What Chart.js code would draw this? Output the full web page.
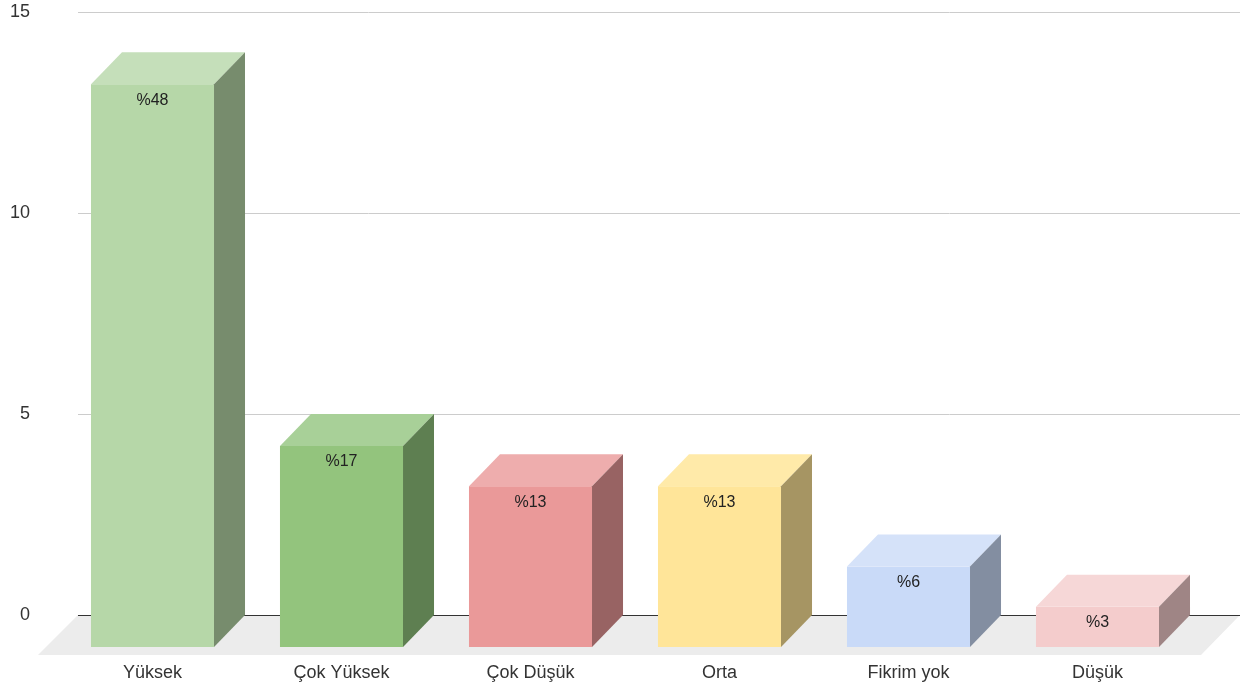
<!DOCTYPE html>
<html>
<head>
<meta charset="utf-8">
<script src="https://cdn.jsdelivr.net/npm/chart.js@4.4.0/dist/chart.umd.min.js"></script>
<style>
body{margin:0;background:#fff}
canvas{display:block}
</style>
</head>
<body>
<canvas id="chart" width="1257" height="688"></canvas>
<script>
const categories = ['Yüksek','Çok Yüksek','Çok Düşük','Orta','Fikrim yok','Düşük']
const counts = [14,5,4,4,2,1]
const percentLabels = ['%48','%17','%13','%13','%6','%3']
const yTicks = [0,5,10,15]

const frontColors = ['#b6d7a8','#93c47d','#ea9999','#ffe599','#c9daf8','#f4cccc']
const topColors = ['#c5dfba','#a8d098','#eeadad','#ffeaa9','#d5e2f9','#f6d7d7']
const sideColors = ['#778c6d','#5e7f51','#986363','#a69563','#838ea1','#9f8585']

const DX = 31, DY = 32
const FONT = '"Liberation Sans", Arial, sans-serif'

const box3d = {
  id:'box3d',
  beforeDatasetsDraw(chart){
    const {ctx, chartArea, scales:{y}} = chart
    const y0 = y.getPixelForValue(0)
    const gl = chartArea.left + 20, gr = chartArea.right + 48
    ctx.save()
    // floor
    ctx.fillStyle = '#ececec'
    ctx.beginPath()
    ctx.moveTo(gl, y0)
    ctx.lineTo(gr, y0)
    ctx.lineTo(gr - 39, y0 + 40)
    ctx.lineTo(gl - 40, y0 + 40)
    ctx.closePath()
    ctx.fill()
    // grid
    ctx.lineWidth = 1
    yTicks.forEach(v=>{
      const py = Math.round(y.getPixelForValue(v)) + 0.5
      ctx.strokeStyle = v === 0 ? '#333333' : '#cccccc'
      ctx.beginPath()
      ctx.moveTo(gl, py)
      ctx.lineTo(gr, py)
      ctx.stroke()
    })
    ctx.restore()
  },
  afterDatasetsDraw(chart){
    const {ctx} = chart
    const meta = chart.getDatasetMeta(0)
    ctx.save()
    meta.data.forEach((bar,i)=>{
      const {x, y, base, width} = bar.getProps(['x','y','base','width'], true)
      const l = x - width/2, r = x + width/2
      const t = y + DY, b = base + DY
      // front
      ctx.fillStyle = frontColors[i]
      ctx.fillRect(l, t, width, b - t)
      // top
      ctx.fillStyle = topColors[i]
      ctx.beginPath()
      ctx.moveTo(l, t)
      ctx.lineTo(r, t)
      ctx.lineTo(r + DX, t - DY)
      ctx.lineTo(l + DX, t - DY)
      ctx.closePath()
      ctx.fill()
      // side
      ctx.fillStyle = sideColors[i]
      ctx.beginPath()
      ctx.moveTo(r, t)
      ctx.lineTo(r + DX, t - DY)
      ctx.lineTo(r + DX, b - DY)
      ctx.lineTo(r, b)
      ctx.closePath()
      ctx.fill()
      // label
      ctx.fillStyle = '#222222'
      ctx.font = '16px ' + FONT
      ctx.textAlign = 'center'
      ctx.textBaseline = 'middle'
      ctx.fillText(percentLabels[i], x, t + 16)
    })
    ctx.restore()
  }
}

new Chart(document.getElementById('chart'),{
  type:'bar',
  data:{
    labels:categories,
    datasets:[{
      data:counts,
      backgroundColor:'rgba(0,0,0,0)',
      categoryPercentage:1,
      barPercentage:0.651
    }]
  },
  options:{
    responsive:false,
    animation:false,
    layout:{padding:{top:0,right:65,bottom:0,left:0}},
    plugins:{
      legend:{display:false},
      tooltip:{enabled:false}
    },
    scales:{
      y:{
        min:0,
        max:15,
        ticks:{stepSize:5,color:'#333',font:{size:18,family:FONT},padding:20},
        grid:{display:false},
        border:{display:false},
        afterFit(scale){ scale.width = 58; scale.paddingTop = 12 }
      },
      x:{
        ticks:{color:'#333',font:{size:18,family:FONT},padding:39,maxRotation:0,autoSkip:false},
        grid:{display:false},
        border:{display:false},
        afterFit(scale){ scale.height = 73 }
      }
    }
  },
  plugins:[box3d]
})
</script>
</body>
</html>
